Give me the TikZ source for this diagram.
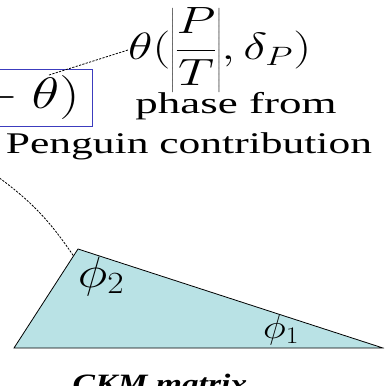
\RequirePackage{fix-cm}
\documentclass[tikz,border=0pt]{standalone}
\usepackage{fontspec}
\setmainfont{Liberation Serif}
\usepackage{graphicx}
\usetikzlibrary{calc}
\definecolor{boxblue}{RGB}{60,60,190}
\definecolor{ckmfill}{RGB}{185,226,229}
\tikzset{txt/.style={font=\fontsize{30}{36}\selectfont,inner sep=0pt},
         mth/.style={font=\fontsize{34}{40}\selectfont,inner sep=0pt},
         lead/.style={dash pattern=on 2.2pt off 1.3pt,line width=0.8pt}}
\newcommand{\wide}[2][1.45]{\scalebox{#1}[1]{#2}}
\begin{document}
\begin{tikzpicture}[x=1pt,y=-1pt]
\useasboundingbox (0,0) rectangle (384,386);
\clip (0,0) rectangle (384,386);
% unitarity triangle
\coordinate (apex) at (78,249);
\coordinate (bl) at (14,348);
\coordinate (br) at (383,348);
\filldraw[fill=ckmfill,line width=0.8pt] (apex) -- (br) -- (bl) -- cycle;
\node[mth,font=\fontsize{44}{50}\selectfont] (phitwo) at (101,276) {\wide[1.15]{$\phi_2$}};
\node[mth,font=\fontsize{34}{40}\selectfont] (phione) at (281,330) {\wide[1.15]{$\phi_1$}};
\node[txt,font=\fontsize{28}{34}\selectfont\bfseries\itshape,anchor=base] (ckm) at (160,393) {\wide[1.2]{CKM matrix}};
% box, cut at the left
\node[draw=boxblue,line width=0.8pt,anchor=north east,minimum height=57pt,
      text width=160pt,align=right,inner xsep=13pt,inner ysep=0pt,
      font=\fontsize{44}{50}\selectfont] (box) at (93,69) {\wide[1.3]{${}-\theta)$}};
% penguin phase
\node[mth,font=\fontsize{38}{44}\selectfont,anchor=west] (theta) at (128,50)
   {\wide[1.33]{$\displaystyle\theta(\left|\frac{P}{T}\right|\!,\delta_P)$}};
\node[txt,anchor=base] (phase) at (236,113) {\wide[1.5]{phase from}};
\node[txt,anchor=base] (penguin) at (189,153) {\wide{Penguin contribution}};
% leaders
\coordinate (thbox) at (49,75);
\coordinate (lft) at (-6,174);
\coordinate (edge) at ($(apex)!0.07!(bl)$);
\draw[lead] (thbox) -- (theta.west);
\draw[lead] (lft) to[bend left=10] (edge);
\end{tikzpicture}
\end{document}
